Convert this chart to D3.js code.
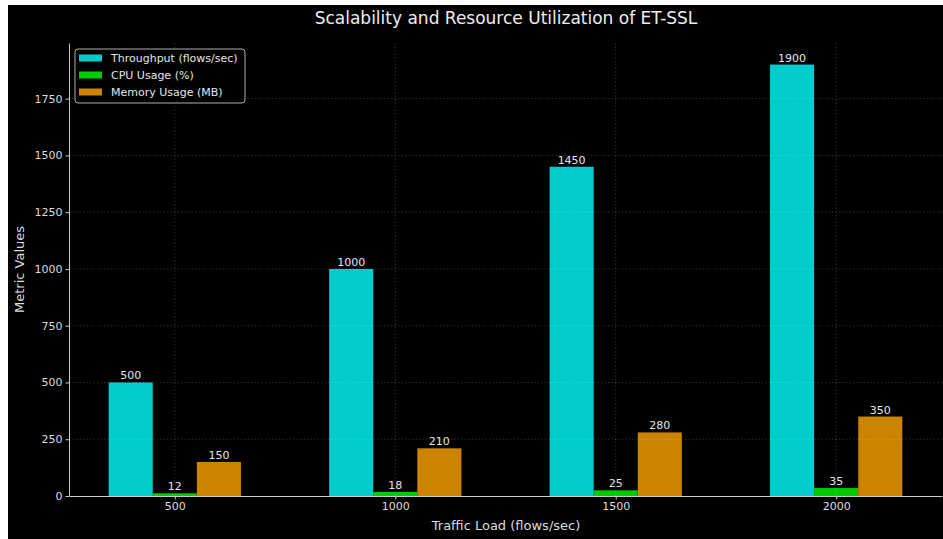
<!DOCTYPE html>
<html>
<head>
<meta charset="utf-8">
<script src="https://cdn.jsdelivr.net/npm/d3@7"></script>
<style>
  html, body { margin: 0; padding: 0; background: #ffffff; }
  svg { display: block; font-family: "DejaVu Sans", sans-serif; }
</style>
</head>
<body>
<svg id="chart" width="943" height="539"></svg>
<script>
// Traffic loads tested and the measured metrics at each load
const categories = ["500", "1000", "1500", "2000"];
const throughput = [500, 1000, 1450, 1900];
const cpuUsage = [12, 18, 25, 35];
const memoryUsage = [150, 210, 280, 350];
const yTicks = [0, 250, 500, 750, 1000, 1250, 1500, 1750];
const seriesNames = ["Throughput (flows/sec)", "CPU Usage (%)", "Memory Usage (MB)"];
const seriesColors = ["#00cccc", "#00cc00", "#cc8400"];
const seriesValues = [throughput, cpuUsage, memoryUsage];

const svg = d3.select("#chart");
const W = 943, H = 539;

// dark figure background
svg.append("rect").attr("x", 8).attr("y", 5).attr("width", W - 8).attr("height", H - 5).attr("fill", "#000");

const plot = { left: 69, right: 942, top: 43, bottom: 496 };

// bar groups: index positions, bars 0.2 wide at offsets -0.2, 0, +0.2
const barW = 0.2;
const x = d3.scaleLinear().domain([-0.48, categories.length - 1 + 0.48]).range([plot.left, plot.right]);
const yMax = d3.max(throughput) * 1.05;
const y = d3.scaleLinear().domain([0, yMax]).range([plot.bottom, plot.top]);

const g = svg.append("g");

// bars
seriesValues.forEach((vals, si) => {
  const off = (si - 1) * barW;
  g.selectAll(null).data(vals).enter().append("rect")
    .attr("x", (d, i) => x(i + off - barW / 2))
    .attr("width", (d, i) => x(i + off + barW / 2) - x(i + off - barW / 2))
    .attr("y", d => y(d))
    .attr("height", d => y(0) - y(d))
    .attr("fill", seriesColors[si]);
  // value labels
  g.selectAll(null).data(vals).enter().append("text")
    .attr("x", (d, i) => x(i + off))
    .attr("y", d => y(d) - 3)
    .attr("text-anchor", "middle")
    .attr("fill", "#e6e6e6")
    .attr("font-size", "11px")
    .text(d => d);
});

// dotted grid drawn over the bars
const grid = svg.append("g").attr("stroke", "#ffffff").attr("stroke-opacity", 0.22)
  .attr("stroke-width", 0.8).attr("stroke-dasharray", "1.5,2");
grid.selectAll(null).data(yTicks.filter(t => t > 0)).enter().append("line")
  .attr("x1", plot.left).attr("x2", plot.right)
  .attr("y1", d => y(d)).attr("y2", d => y(d));
grid.selectAll(null).data(categories).enter().append("line")
  .attr("x1", (d, i) => x(i)).attr("x2", (d, i) => x(i))
  .attr("y1", plot.top).attr("y2", plot.bottom);

// axes
const xAxis = d3.axisBottom(x).tickValues(d3.range(categories.length))
  .tickFormat(i => categories[i]).tickSizeInner(3.5).tickSizeOuter(0).tickPadding(3);
const yAxis = d3.axisLeft(y).tickValues(yTicks).tickFormat(d3.format("d"))
  .tickSizeInner(3.5).tickSizeOuter(0).tickPadding(3);

const xg = svg.append("g").attr("transform", `translate(0,${plot.bottom})`).call(xAxis);
const yg = svg.append("g").attr("transform", `translate(${plot.left},0)`).call(yAxis);
[xg, yg].forEach(a => {
  a.select(".domain").attr("stroke", "#cccccc").attr("stroke-width", 1);
  a.selectAll(".tick line").attr("stroke", "#cccccc");
  a.selectAll(".tick text").attr("fill", "#dddddd").attr("font-size", "11px")
    .attr("font-family", "DejaVu Sans, sans-serif");
});

// title and axis labels
svg.append("text").attr("x", 506).attr("y", 24).attr("text-anchor", "middle")
  .attr("fill", "#eeeeee").attr("font-size", "17px").text("Scalability and Resource Utilization of ET-SSL");
svg.append("text").attr("x", 506).attr("y", 530).attr("text-anchor", "middle")
  .attr("fill", "#dddddd").attr("font-size", "13px").text("Traffic Load (flows/sec)");
svg.append("text").attr("transform", `translate(24,${(plot.top + plot.bottom) / 2}) rotate(-90)`)
  .attr("text-anchor", "middle").attr("fill", "#dddddd").attr("font-size", "13px").text("Metric Values");

// legend
const lg = svg.append("g").attr("transform", "translate(75,49)");
lg.append("rect").attr("width", 170).attr("height", 54).attr("rx", 3)
  .attr("fill", "#000").attr("stroke", "#cccccc").attr("stroke-opacity", 0.85);
seriesNames.forEach((name, i) => {
  const row = lg.append("g").attr("transform", `translate(0,${9 + i * 17})`);
  row.append("rect").attr("x", 4).attr("y", -3.5).attr("width", 23).attr("height", 7).attr("fill", seriesColors[i]);
  row.append("text").attr("x", 36).attr("y", 4).attr("fill", "#e6e6e6").attr("font-size", "11px").text(name);
});
</script>
</body>
</html>
